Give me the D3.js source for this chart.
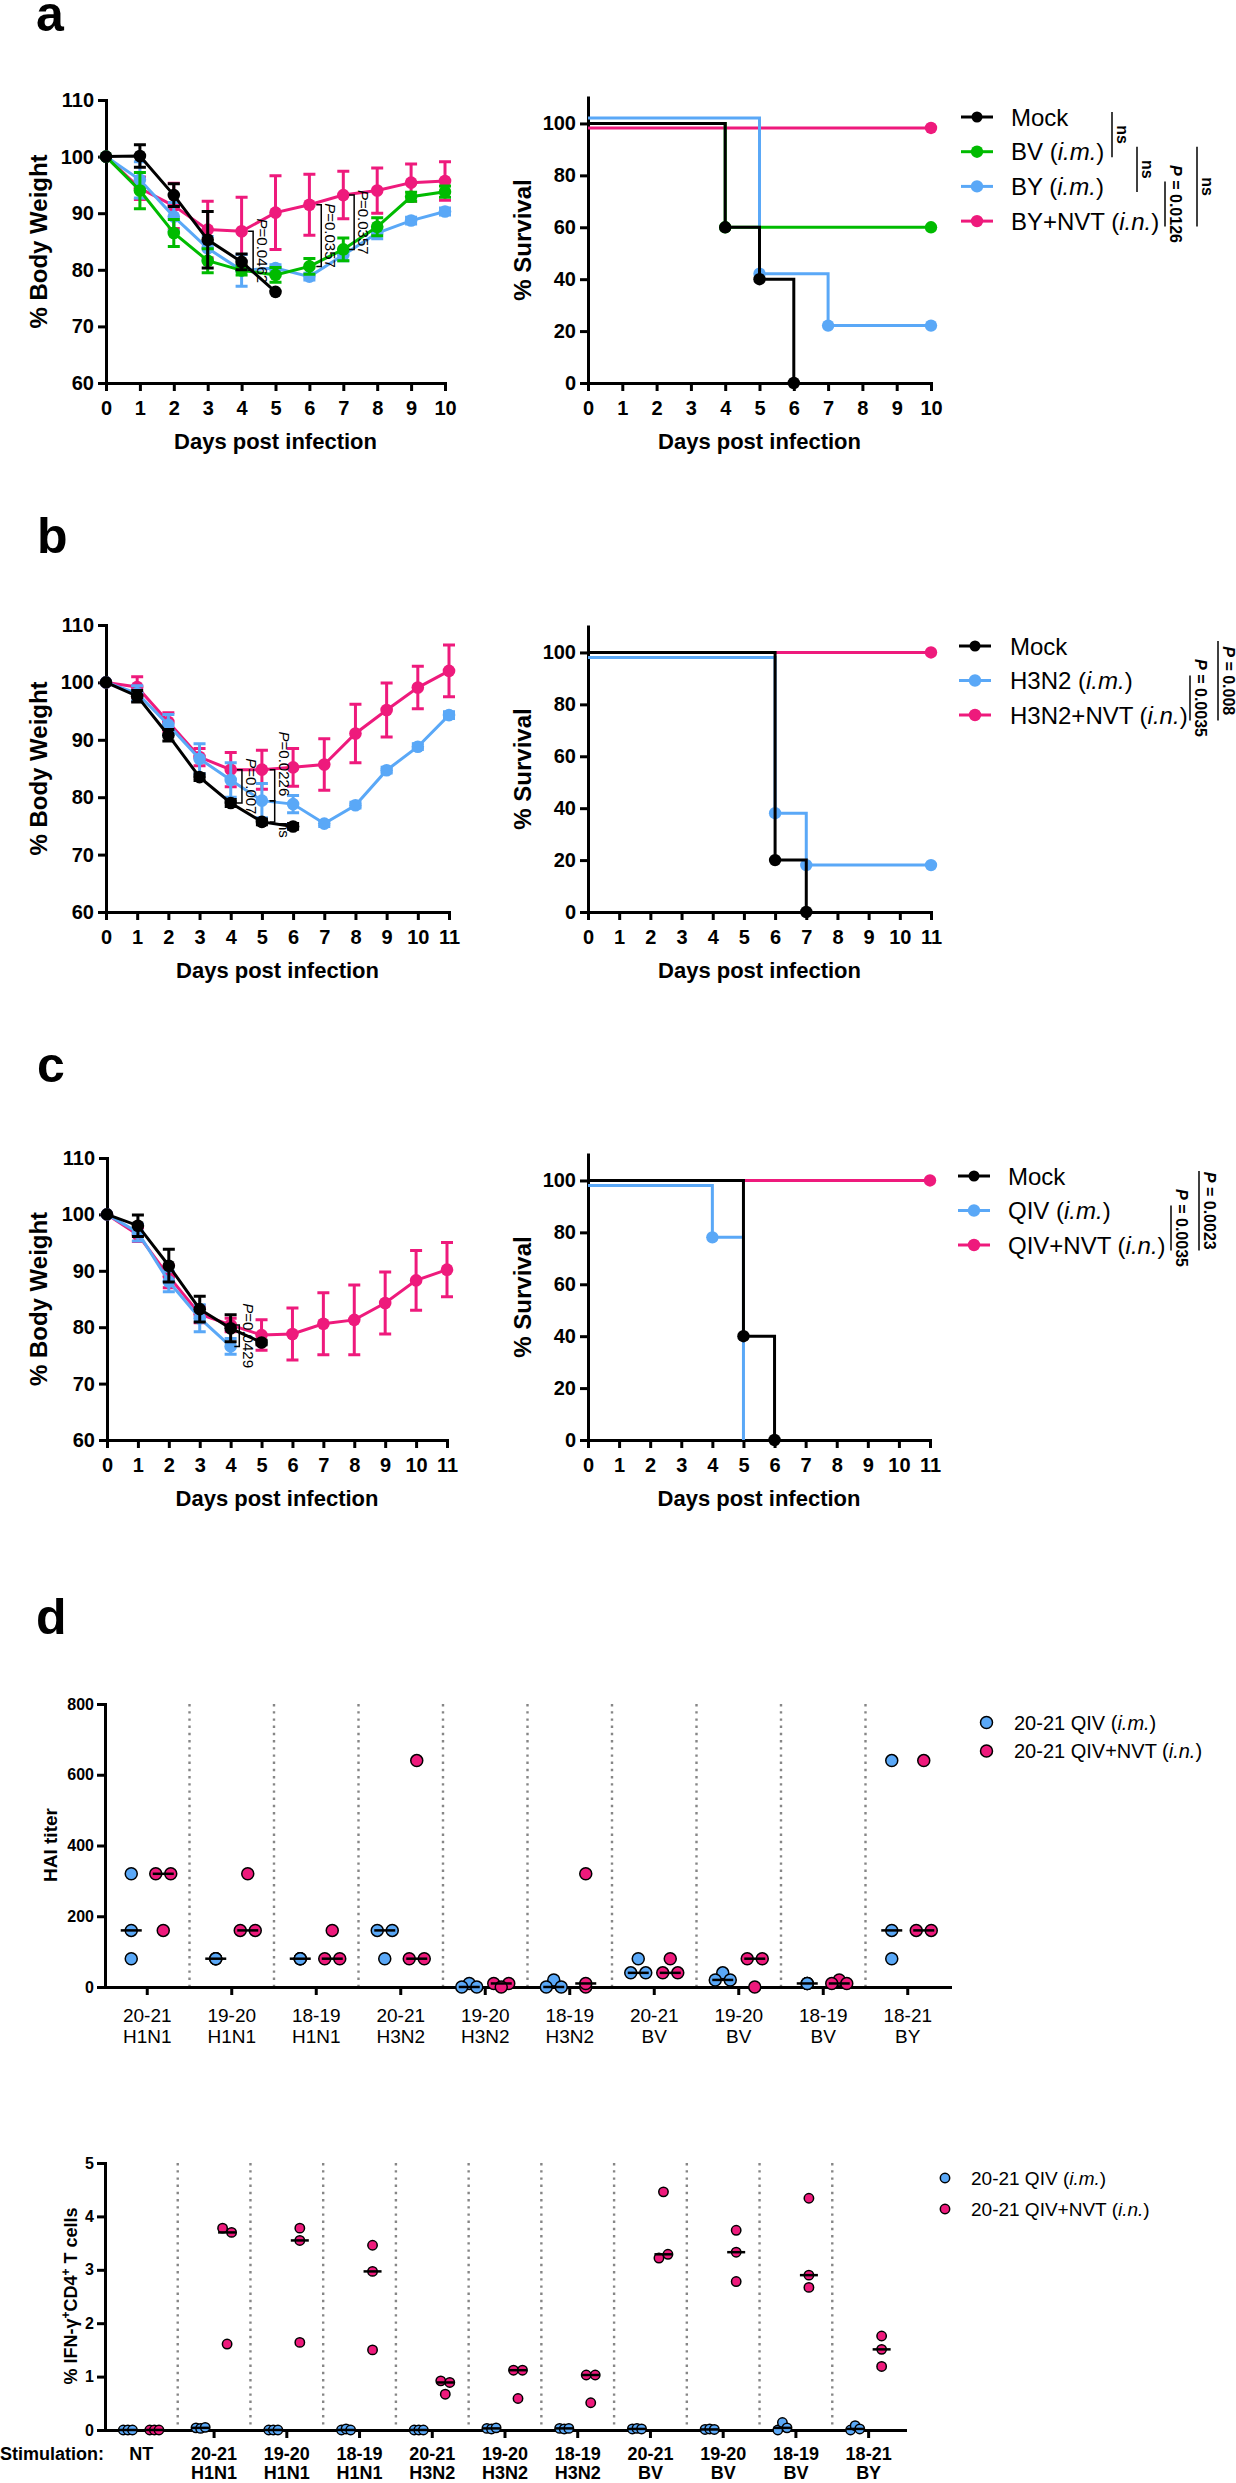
<!DOCTYPE html>
<html>
<head>
<meta charset="utf-8">
<title>Weight, survival, HAI and IFN-g</title>
<script src="https://cdn.jsdelivr.net/npm/d3@7"></script>
<style>
body { margin: 0; background: #fff; }
svg { display: block; }
</style>
</head>
<body>
<svg id="fig" width="1236" height="2483"></svg>
<script>
// ---------------- data ----------------
// panel a : body weight (mean, error)
var daysA = [0, 1, 2, 3, 4, 5, 6, 7, 8, 9, 10];
var wA_mock = [100, 100.1, 93.2, 85.3, 81.4, 76.1];
var eA_mock = [0, 2.0, 2.0, 5.0, 1.4, 0];
var wA_bv = [100, 94.0, 86.5, 81.6, 79.9, 79.1, 80.6, 83.6, 87.6, 92.9, 93.8];
var eA_bv = [0, 3.2, 2.4, 2.1, 0.8, 1.3, 1.4, 2.0, 1.6, 0.8, 1.0];
var wA_by = [100, 95.9, 89.4, 83.8, 79.9, 80.3, 78.8, 82.6, 86.5, 88.7, 90.3];
var eA_by = [0, 3.2, 2.5, 2.1, 2.8, 0.6, 0.6, 1.0, 1.0, 0.6, 0.6];
var wA_nvt = [100, 94.4, 91.3, 87.1, 86.8, 90.1, 91.5, 93.2, 94.0, 95.4, 95.7];
var eA_nvt = [0, 2.0, 4.0, 5.0, 6.0, 6.5, 5.4, 4.2, 4.0, 3.3, 3.4];

// panel b
var daysB = [0, 1, 2, 3, 4, 5, 6, 7, 8, 9, 10, 11];
var wB_mock = [100, 97.6, 90.8, 83.5, 79.0, 75.7, 74.9];
var eB_mock = [0, 1.0, 1.0, 0.6, 0.6, 0.5, 0.5];
var wB_h3 = [100, 98.1, 92.6, 86.7, 83.0, 79.4, 78.8, 75.4, 78.6, 84.7, 88.8, 94.3];
var eB_h3 = [0, 1.3, 1.8, 2.6, 3.0, 3.0, 1.5, 0.5, 0.5, 0.5, 0.5, 0.6];
var wB_nvt = [100, 99.2, 93.1, 87.0, 84.8, 84.8, 85.2, 85.7, 91.1, 95.2, 99.1, 102.0];
var eB_nvt = [0, 1.8, 1.6, 1.5, 3.0, 3.4, 3.3, 4.5, 5.1, 4.7, 3.7, 4.5];

// panel c
var daysC = [0, 1, 2, 3, 4, 5, 6, 7, 8, 9, 10, 11];
var wC_mock = [100, 98.0, 90.9, 83.2, 79.8, 77.3];
var eC_mock = [0, 1.9, 2.9, 2.3, 2.4, 0.4];
var wC_qiv = [100, 96.8, 88.1, 81.6, 76.6];
var eC_qiv = [0, 1.5, 1.8, 2.4, 1.4];
var wC_nvt = [100, 96.4, 89.0, 82.3, 80.4, 78.6, 78.8, 80.6, 81.3, 84.3, 88.3, 90.2];
var eC_nvt = [0, 1.2, 2.0, 1.5, 1.2, 2.7, 4.6, 5.5, 6.2, 5.5, 5.3, 4.8];

// survival steps (day, % survival)
var sA_mock_t = [0, 4, 5, 6], sA_mock_v = [100, 60, 40, 0];
var sA_bv_t = [0, 4], sA_bv_v = [100, 60];
var sA_by_t = [0, 5, 7], sA_by_v = [100, 40, 20];
var sA_nvt_t = [0], sA_nvt_v = [100];
var sB_mock_t = [0, 6, 7], sB_mock_v = [100, 20, 0];
var sB_h3_t = [0, 6, 7], sB_h3_v = [100, 40, 20];
var sB_nvt_t = [0], sB_nvt_v = [100];
var sC_mock_t = [0, 5, 6], sC_mock_v = [100, 40, 0];
var sC_qiv_t = [0, 4, 5], sC_qiv_v = [100, 80, 0];
var sC_nvt_t = [0], sC_nvt_v = [100];

// panel d : HAI titers
var haiGroups = ['20-21 H1N1', '19-20 H1N1', '18-19 H1N1', '20-21 H3N2', '19-20 H3N2',
                 '18-19 H3N2', '20-21 BV', '19-20 BV', '18-19 BV', '18-21 BY'];
var haiQIV = [[320, 160, 80], [80, 80, 80], [80, 80, 80], [160, 160, 80], [10, 0, 0],
              [20, 0, 0], [80, 40, 40], [40, 20, 20], [10, 10, 10], [640, 160, 80]];
var haiNVT = [[320, 320, 160], [320, 160, 160], [160, 80, 80], [640, 80, 80], [10, 10, 0],
              [320, 0, 10], [80, 40, 40], [80, 80, 0], [20, 10, 10], [640, 160, 160]];
var haiTicks = [0, 200, 400, 600, 800];

// panel d : % IFN-g+ CD4+ T cells
var ifnGroups = ['NT', '20-21 H1N1', '19-20 H1N1', '18-19 H1N1', '20-21 H3N2', '19-20 H3N2',
                 '18-19 H3N2', '20-21 BV', '19-20 BV', '18-19 BV', '18-21 BY'];
var ifnQIV = [[0, 0, 0], [0.04, 0.03, 0.05], [0, 0, 0], [0, 0.02, 0], [0, 0, 0], [0.03, 0.02, 0.04],
              [0.03, 0.02, 0.03], [0.02, 0.03, 0.02], [0.01, 0.02, 0.01], [0.0, 0.14, 0.04], [0.0, 0.08, 0.02]];
var ifnNVT = [[0, 0, 0], [3.78, 3.70, 1.61], [3.78, 3.55, 1.64], [3.46, 2.97, 1.50], [0.92, 0.89, 0.67],
              [1.12, 1.12, 0.59], [1.03, 1.03, 0.51], [4.46, 3.22, 3.29], [3.74, 3.33, 2.78],
              [4.34, 2.90, 2.67], [1.76, 1.51, 1.19]];
var ifnTicks = [0, 1, 2, 3, 4, 5];

// ---------------- style ----------------
var FONT = '"Liberation Sans", Arial, Helvetica, sans-serif';
var C_MOCK = '#000000', C_BV = '#00bb00', C_BLUE = '#5aa8f7', C_PINK = '#ee1a7c';

var svg = d3.select('#fig').attr('font-family', FONT);

function richText(sel, str) {
	// parts between * are italic
	str.split('*').forEach(function(part, i) {
		if (!part) return;
		sel.append('tspan').text(part).attr('font-style', i % 2 ? 'italic' : null);
	});
}

function styleAxis(g, size) {
	g.attr('font-family', FONT).attr('font-size', size).attr('font-weight', 'bold');
	g.select('.domain').attr('stroke-width', 3).attr('stroke-linecap', 'square');
	g.selectAll('.tick line').attr('stroke-width', 3);
	g.selectAll('.tick text').attr('fill', '#000');
}

function panelLetter(txt, x, y) {
	svg.append('text').attr('x', x).attr('y', y).attr('font-size', 50)
		.attr('font-weight', 'bold').text(txt);
}

function daysTitle(cx, y) {
	svg.append('text').attr('x', cx).attr('y', y).attr('text-anchor', 'middle')
		.attr('font-size', 22).attr('font-weight', 'bold').text('Days post infection');
}

function yTitle(txt, x, cy, size) {
	svg.append('text').attr('transform', 'translate(' + x + ',' + cy + ') rotate(-90)')
		.attr('text-anchor', 'middle').attr('font-size', size).attr('font-weight', 'bold').text(txt);
}

var intFmt = d3.format('d');

// ---------------- weight chart ----------------
function weightChart(cfg) {
	var x = d3.scaleLinear().domain([0, cfg.lastDay]).range([cfg.x0, cfg.x1]);
	var y = d3.scaleLinear().domain([60, 110]).range([cfg.yb, cfg.yt]);
	var g = svg.append('g');

	var ax = g.append('g').attr('transform', 'translate(0,' + cfg.yb + ')')
		.call(d3.axisBottom(x).tickValues(cfg.days).tickFormat(intFmt).tickSize(8).tickPadding(10).tickSizeOuter(0));
	styleAxis(ax, 20);
	var ay = g.append('g').attr('transform', 'translate(' + cfg.x0 + ',0)')
		.call(d3.axisLeft(y).tickValues([60, 70, 80, 90, 100, 110]).tickFormat(intFmt).tickSize(8).tickPadding(4).tickSizeOuter(0));
	styleAxis(ay, 20);

	var line = d3.line().x(function(p) { return x(p.d); }).y(function(p) { return y(p.v); });
	cfg.series.slice().reverse().forEach(function(s) {
		var pts = s.w.map(function(v, i) { return {d: cfg.days[i], v: v, e: s.e[i]}; });
		var sg = g.append('g');
		sg.selectAll('path.err').data(pts.filter(function(p) { return p.e > 0; }))
			.enter().append('path')
			.attr('class', 'err')
			.attr('d', function(p) {
				var cx = x(p.d), t = y(p.v + p.e), b = y(p.v - p.e);
				return 'M' + (cx - 6) + ',' + t + 'H' + (cx + 6) + 'M' + cx + ',' + t + 'V' + b +
					'M' + (cx - 6) + ',' + b + 'H' + (cx + 6);
			})
			.attr('stroke', s.color).attr('stroke-width', 3).attr('fill', 'none');
		sg.append('path').datum(pts).attr('d', line)
			.attr('stroke', s.color).attr('stroke-width', 3).attr('fill', 'none');
		sg.selectAll('circle').data(pts).enter().append('circle')
			.attr('cx', function(p) { return x(p.d); })
			.attr('cy', function(p) { return y(p.v); })
			.attr('r', 6.3).attr('fill', s.color);
	});

	// significance brackets
	cfg.notes.forEach(function(n) {
		var bx = x(n.day), y1 = y(n.v1), y2 = y(n.v2);
		g.append('path').attr('d', 'M' + (bx - 5) + ',' + y1 + 'H' + bx + 'V' + y2 + 'H' + (bx - 5))
			.attr('stroke', '#000').attr('stroke-width', 1.5).attr('fill', 'none');
		var cy = n.mid != null ? y(n.mid) : (y1 + y2) / 2;
		var t = g.append('text').attr('transform', 'translate(' + (bx + 4) + ',' + cy + ') rotate(90)')
			.attr('text-anchor', 'middle').attr('font-size', 15);
		richText(t, n.label);
	});

	daysTitle((cfg.x0 + cfg.x1) / 2, cfg.yb + 66);
	yTitle('% Body Weight', 47, (cfg.yt + cfg.yb) / 2, 24);
}

// ---------------- survival chart ----------------
function survivalChart(cfg) {
	var x = d3.scaleLinear().domain([0, cfg.lastDay]).range([cfg.x0, cfg.x1]);
	var y = d3.scaleLinear().domain([0, 110]).range([cfg.yb, cfg.yb - 285.5]);
	var g = svg.append('g');

	var ax = g.append('g').attr('transform', 'translate(0,' + cfg.yb + ')')
		.call(d3.axisBottom(x).tickValues(cfg.days).tickFormat(intFmt).tickSize(8).tickPadding(10).tickSizeOuter(0));
	styleAxis(ax, 20);
	var ay = g.append('g').attr('transform', 'translate(' + cfg.x0 + ',0)')
		.call(d3.axisLeft(y).tickValues([0, 20, 40, 60, 80, 100]).tickFormat(intFmt).tickSize(8).tickPadding(4).tickSizeOuter(0));
	styleAxis(ay, 20);

	cfg.series.slice().reverse().forEach(function(s) {
		var dy = s.dy || 0;
		// offset curves apart like the original, but keep 0 % on the axis
		var yy = function(v) { return y(v) + (v > 0 ? dy : 0); };
		var line = d3.line().curve(d3.curveStepAfter)
			.x(function(p) { return x(p[0]); }).y(function(p) { return yy(p[1]); });
		var pts = s.t.map(function(t, i) { return [t, s.v[i]]; });
		var last = pts[pts.length - 1];
		if (last[1] > 0) pts.push([cfg.lastDay, last[1]]);
		var sg = g.append('g');
		sg.append('path').datum(pts).attr('d', line)
			.attr('stroke', s.color).attr('stroke-width', 3).attr('fill', 'none');
		sg.selectAll('circle').data(pts.slice(1).filter(function(p) { return p[1] > 0 || !dy; }))
			.enter().append('circle')
			.attr('cx', function(p) { return x(p[0]); })
			.attr('cy', function(p) { return yy(p[1]); })
			.attr('r', 6.2).attr('fill', s.color);
	});

	daysTitle((cfg.x0 + cfg.x1) / 2, cfg.yb + 66);
	yTitle('% Survival', 531, cfg.yb - 143, 24);

	// legend
	var L = cfg.legend;
	cfg.series.forEach(function(s, i) {
		var ry = L.y0 + i * L.step;
		g.append('line').attr('x1', L.mx - 16).attr('x2', L.mx + 16).attr('y1', ry).attr('y2', ry)
			.attr('stroke', s.color).attr('stroke-width', 3);
		g.append('circle').attr('cx', L.mx).attr('cy', ry).attr('r', i === 0 ? 5.5 : 6.2).attr('fill', s.color);
		var t = g.append('text').attr('x', L.tx).attr('y', ry + 8.5).attr('font-size', 24);
		richText(t, s.name);
	});
	L.brackets.forEach(function(b) {
		var y1 = L.y0 + b.r1 * L.step - 5, y2 = L.y0 + b.r2 * L.step + 5.5;
		g.append('line').attr('x1', b.x).attr('x2', b.x).attr('y1', y1).attr('y2', y2)
			.attr('stroke', '#000').attr('stroke-width', 1.5);
		var t = g.append('text').attr('transform', 'translate(' + (b.x + 5) + ',' + ((y1 + y2) / 2) + ') rotate(90)')
			.attr('text-anchor', 'middle').attr('font-size', 16).attr('font-weight', 'bold');
		richText(t, b.label);
	});
}

// ---------------- dot plot (panel d) ----------------
function spread(vals, y, mode) {
	var off = vals.map(function() { return 0; });
	if (mode === 'equal') {
		var counts = d3.rollup(vals, function(v) { return v.length; }, function(d) { return d; });
		var seen = new Map();
		vals.forEach(function(v, i) {
			if (counts.get(v) === 2) {
				var k = seen.get(v) || 0;
				off[i] = k ? 7.5 : -7.5;
				seen.set(v, k + 1);
			}
		});
		return off;
	}
	var idx = vals.map(function(v, i) { return i; }).sort(function(a, b) { return vals[b] - vals[a]; });
	var clusters = [], cur = [idx[0]];
	for (var k = 1; k < idx.length; k++) {
		if (Math.abs(y(vals[idx[k]]) - y(vals[cur[cur.length - 1]])) < 8) cur.push(idx[k]);
		else { clusters.push(cur); cur = [idx[k]]; }
	}
	clusters.push(cur);
	clusters.forEach(function(c) {
		c.sort(function(a, b) { return a - b; });
		var n = c.length, gap = n === 2 ? 9 : 4.6;
		c.forEach(function(i, j) { off[i] = (j - (n - 1) / 2) * gap; });
	});
	return off;
}

function dotChart(cfg) {
	var x = d3.scaleBand().domain(cfg.groups).range([cfg.x0, cfg.x1]);
	var y = d3.scaleLinear().domain([0, cfg.ticks[cfg.ticks.length - 1]]).range([cfg.yb, cfg.yt]);
	var g = svg.append('g');

	// dotted separators
	g.selectAll('line.sep').data(cfg.groups.slice(1)).enter().append('line')
		.attr('x1', function(d) { return x(d); }).attr('x2', function(d) { return x(d); })
		.attr('y1', cfg.yt).attr('y2', cfg.yb)
		.attr('stroke', '#868686').attr('stroke-width', 2.4).attr('stroke-dasharray', '2.4,4.8');

	var ax = g.append('g').attr('transform', 'translate(0,' + cfg.yb + ')')
		.call(d3.axisBottom(x).tickSize(8).tickFormat('').tickSizeOuter(0));
	styleAxis(ax, 16);
	ax.selectAll('.tick text').remove();
	ax.selectAll('.tick').filter(function(d) { return cfg.noTick.indexOf(d) >= 0; }).remove();
	var ay = g.append('g').attr('transform', 'translate(' + cfg.x0 + ',0)')
		.call(d3.axisLeft(y).tickValues(cfg.ticks).tickFormat(intFmt).tickSize(8).tickPadding(3).tickSizeOuter(0));
	styleAxis(ay, 16);

	cfg.series.forEach(function(s) {
		cfg.groups.forEach(function(grp, gi) {
			var vals = s.data[gi];
			var cx = x(grp) + x.bandwidth() / 2 + s.dx;
			var off = spread(vals, y, cfg.mode);
			g.selectAll(null).data(vals).enter().append('circle')
				.attr('cx', function(v, i) { return cx + off[i]; })
				.attr('cy', function(v) { return y(v); })
				.attr('r', cfg.r).attr('fill', s.color).attr('stroke', '#000').attr('stroke-width', 1.5);
			var m = d3.median(vals);
			g.append('line').attr('x1', cx - cfg.mw).attr('x2', cx + cfg.mw)
				.attr('y1', y(m)).attr('y2', y(m)).attr('stroke', '#000').attr('stroke-width', 2.5);
		});
	});

	// category labels
	cfg.groups.forEach(function(grp) {
		var parts = grp.split(' ');
		var cx = x(grp) + x.bandwidth() / 2;
		parts.forEach(function(p, i) {
			g.append('text').attr('x', cx).attr('y', cfg.yb + cfg.lab1 + i * cfg.labStep)
				.attr('text-anchor', 'middle').attr('font-size', cfg.labSize)
				.attr('font-weight', cfg.labBold ? 'bold' : null).text(p);
		});
	});

	// legend
	cfg.series.forEach(function(s, i) {
		var ry = cfg.legend.y0 + i * cfg.legend.step;
		g.append('circle').attr('cx', cfg.legend.mx).attr('cy', ry).attr('r', cfg.r)
			.attr('fill', s.color).attr('stroke', '#000').attr('stroke-width', 1.5);
		var t = g.append('text').attr('x', cfg.legend.tx).attr('y', ry + 7).attr('font-size', cfg.legend.size);
		richText(t, s.name);
	});
}

// ---------------- panel a ----------------
panelLetter('a', 36, 31);
weightChart({
	x0: 106, x1: 445, yt: 100, yb: 383, lastDay: 10, days: daysA,
	series: [
		{w: wA_mock, e: eA_mock, color: C_MOCK},
		{w: wA_bv, e: eA_bv, color: C_BV},
		{w: wA_by, e: eA_by, color: C_BLUE},
		{w: wA_nvt, e: eA_nvt, color: C_PINK}
	],
	notes: [
		{day: 4.34, v1: 86.8, v2: 79.9, label: '*P*=0.0462'},
		{day: 6.35, v1: 91.5, v2: 80.6, label: '*P*=0.0357'},
		{day: 7.32, v1: 93.2, v2: 83.6, label: '*P*=0.0357'}
	]
});
survivalChart({
	x0: 588, x1: 931, yb: 383, lastDay: 10, days: daysA,
	series: [
		{t: sA_mock_t, v: sA_mock_v, color: C_MOCK, name: 'Mock'},
		{t: sA_bv_t, v: sA_bv_v, color: C_BV, name: 'BV (*i.m.*)'},
		{t: sA_by_t, v: sA_by_v, color: C_BLUE, name: 'BY (*i.m.*)', dy: -5.5},
		{t: sA_nvt_t, v: sA_nvt_v, color: C_PINK, name: 'BY+NVT (*i.n.*)', dy: 4.5}
	],
	legend: {mx: 977, tx: 1011, y0: 117, step: 34.7, brackets: [
		{x: 1112, r1: 0, r2: 1, label: 'ns'},
		{x: 1137, r1: 1, r2: 2, label: 'ns'},
		{x: 1165, r1: 2, r2: 3, label: '*P* = 0.0126'},
		{x: 1197, r1: 1, r2: 3, label: 'ns'}
	]}
});

// ---------------- panel b ----------------
panelLetter('b', 37, 553);
weightChart({
	x0: 106, x1: 449, yt: 625, yb: 912, lastDay: 11, days: daysB,
	series: [
		{w: wB_mock, e: eB_mock, color: C_MOCK},
		{w: wB_h3, e: eB_h3, color: C_BLUE},
		{w: wB_nvt, e: eB_nvt, color: C_PINK}
	],
	notes: [
		{day: 4.36, v1: 84.8, v2: 79.0, label: '*P*=0.007'},
		{day: 5.41, v1: 84.8, v2: 79.4, mid: 85.8, label: '*P*=0.0226'},
		{day: 5.41, v1: 79.4, v2: 75.7, mid: 74.3, label: 'ns'}
	]
});
survivalChart({
	x0: 588, x1: 931, yb: 912, lastDay: 11, days: daysB,
	series: [
		{t: sB_mock_t, v: sB_mock_v, color: C_MOCK, name: 'Mock'},
		{t: sB_h3_t, v: sB_h3_v, color: C_BLUE, name: 'H3N2 (*i.m.*)', dy: 5},
		{t: sB_nvt_t, v: sB_nvt_v, color: C_PINK, name: 'H3N2+NVT (*i.n.*)'}
	],
	legend: {mx: 975, tx: 1010, y0: 646, step: 34.5, brackets: [
		{x: 1190, r1: 1, r2: 2, label: '*P* = 0.0035'},
		{x: 1218, r1: 0, r2: 2, label: '*P* = 0.008'}
	]}
});

// ---------------- panel c ----------------
panelLetter('c', 37, 1082);
weightChart({
	x0: 107, x1: 447, yt: 1158, yb: 1440, lastDay: 11, days: daysC,
	series: [
		{w: wC_mock, e: eC_mock, color: C_MOCK},
		{w: wC_qiv, e: eC_qiv, color: C_BLUE},
		{w: wC_nvt, e: eC_nvt, color: C_PINK}
	],
	notes: [
		{day: 4.28, v1: 80.4, v2: 76.6, label: '*P*=0.0429'}
	]
});
survivalChart({
	x0: 588, x1: 930, yb: 1440, lastDay: 11, days: daysC,
	series: [
		{t: sC_mock_t, v: sC_mock_v, color: C_MOCK, name: 'Mock'},
		{t: sC_qiv_t, v: sC_qiv_v, color: C_BLUE, name: 'QIV (*i.m.*)', dy: 5},
		{t: sC_nvt_t, v: sC_nvt_v, color: C_PINK, name: 'QIV+NVT (*i.n.*)'}
	],
	legend: {mx: 974, tx: 1008, y0: 1176, step: 34.5, brackets: [
		{x: 1171, r1: 1, r2: 2, label: '*P* = 0.0035'},
		{x: 1199, r1: 0, r2: 2, label: '*P* = 0.0023'}
	]}
});

// ---------------- panel d ----------------
panelLetter('d', 36, 1634);
dotChart({
	x0: 105, x1: 950, yt: 1704, yb: 1987, groups: haiGroups, ticks: haiTicks, noTick: [],
	mode: 'equal', r: 6, mw: 10.5,
	lab1: 35, labStep: 21, labSize: 19, labBold: false,
	series: [
		{data: haiQIV, color: C_BLUE, dx: -16, name: '20-21 QIV (*i.m.*)'},
		{data: haiNVT, color: C_PINK, dx: 16, name: '20-21 QIV+NVT (*i.n.*)'}
	],
	legend: {mx: 986.5, tx: 1014, y0: 1722.5, step: 28.5, size: 20}
});
yTitle('HAI titer', 57, 1845, 19);

dotChart({
	x0: 105, x1: 905, yt: 2163, yb: 2430, groups: ifnGroups, ticks: ifnTicks, noTick: ['NT'],
	mode: 'overlap', r: 4.7, mw: 9,
	lab1: 30, labStep: 19, labSize: 18, labBold: true,
	series: [
		{data: ifnQIV, color: C_BLUE, dx: -13.5, name: '20-21 QIV (*i.m.*)'},
		{data: ifnNVT, color: C_PINK, dx: 13, name: '20-21 QIV+NVT (*i.n.*)'}
	],
	legend: {mx: 945, tx: 971, y0: 2178, step: 31, size: 19}
});
svg.append('text').attr('x', 0).attr('y', 2460).attr('font-size', 18).attr('font-weight', 'bold')
	.text('Stimulation:');

var ifnLab = svg.append('text').attr('transform', 'translate(77,2296) rotate(-90)')
	.attr('text-anchor', 'middle').attr('font-size', 18).attr('font-weight', 'bold');
ifnLab.append('tspan').text('% IFN-\u03b3');
ifnLab.append('tspan').attr('dy', -7).attr('font-size', 12).text('+');
ifnLab.append('tspan').attr('dy', 7).text('CD4');
ifnLab.append('tspan').attr('dy', -7).attr('font-size', 12).text('+');
ifnLab.append('tspan').attr('dy', 7).text(' T cells');
</script>
</body>
</html>
